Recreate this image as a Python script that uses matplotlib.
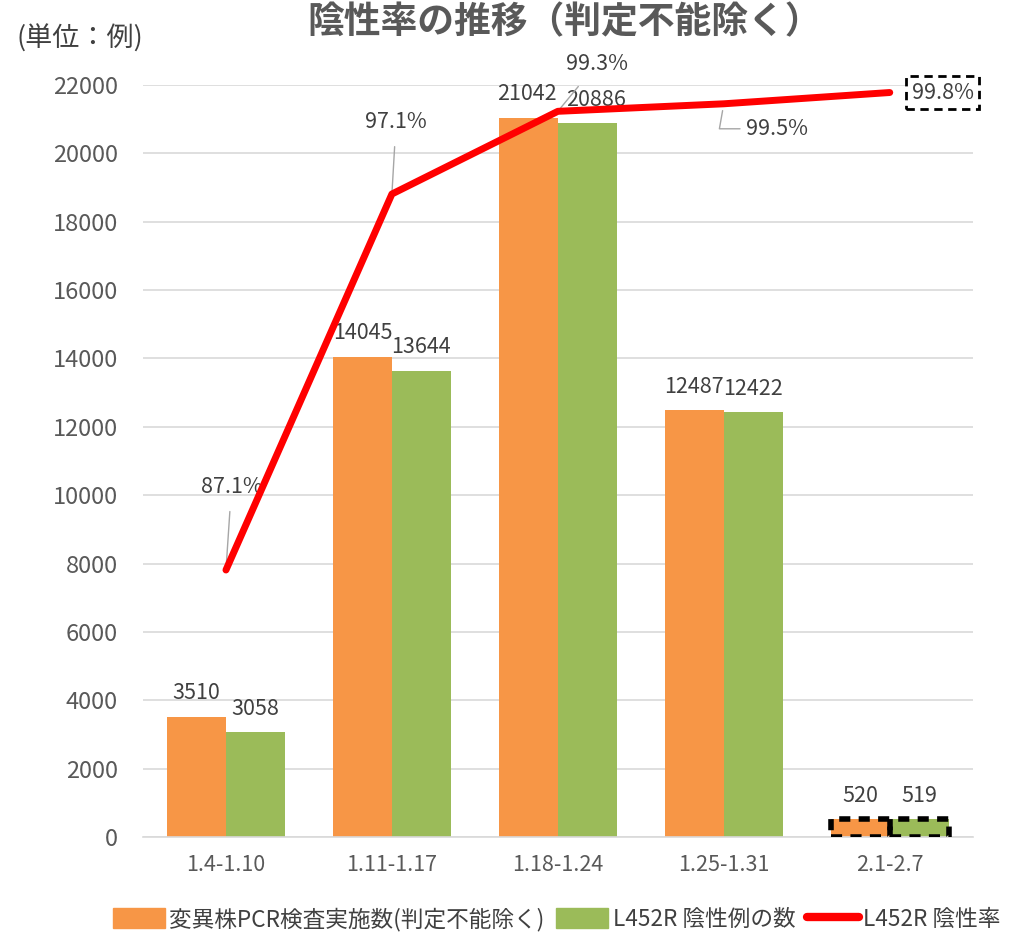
import numpy as np
import matplotlib.pyplot as plt
from matplotlib.patches import Patch
from matplotlib.lines import Line2D

plt.rcParams['font.family'] = ['Noto Sans CJK JP', 'DejaVu Sans']

periods = ['1.4-1.10', '1.11-1.17', '1.18-1.24', '1.25-1.31', '2.1-2.7']
tested = [3510, 14045, 21042, 12487, 520]
negative = [3058, 13644, 20886, 12422, 519]
neg_rate = [87.1, 97.1, 99.3, 99.5, 99.8]

orange = '#F79646'
green = '#9BBB59'
grey = '#595959'
dark = '#404040'

fig = plt.figure(figsize=(10.25, 9.34), dpi=100)
ax = fig.add_axes([0.1395, 0.1039, 0.8095, 0.8051])

x = np.arange(len(periods))
w = 0.355
b1 = ax.bar(x - w / 2, tested, w, color=orange, zorder=2)
b2 = ax.bar(x + w / 2, negative, w, color=green, zorder=2)

# dashed selection boxes on last group
ax.bar(x[-1:] - w / 2, tested[-1:], w, fill=False, edgecolor='black',
       linestyle=(0, (2, 1.5)), linewidth=4, zorder=3)
ax.bar(x[-1:] + w / 2, negative[-1:], w, fill=False, edgecolor='black',
       linestyle=(0, (2, 1.5)), linewidth=4, zorder=3)

off1 = [(0, 9), (0, 9), (-1, 9), (0, 9), (0, 9)]
off2 = [(0, 9), (0, 9), (6, 9), (0, 9), (0, 9)]
for i, (r1, r2) in enumerate(zip(b1, b2)):
    ax.annotate(str(tested[i]), (r1.get_x() + r1.get_width() / 2, tested[i]),
                xytext=off1[i], textcoords='offset points', ha='center',
                va='bottom', fontsize=15.5, color=dark)
    ax.annotate(str(negative[i]), (r2.get_x() + r2.get_width() / 2, negative[i]),
                xytext=off2[i], textcoords='offset points',
                ha='center', va='bottom', fontsize=15.5, color=dark)

ax.set_xlim(-0.5, 4.5)
ax.set_ylim(0, 22000)
ax.set_yticks(np.arange(0, 22001, 2000))
ax.set_xticks(x)
ax.set_xticklabels(periods)
ax.tick_params(length=0, colors=grey)
ax.tick_params(axis='y', pad=18, labelsize=17)
ax.tick_params(axis='x', pad=12, labelsize=15.5)
ax.grid(axis='y', color='#D9D9D9', linewidth=1.2, zorder=0)
ax.set_axisbelow(True)
for s in ['top', 'right', 'left']:
    ax.spines[s].set_visible(False)
ax.spines['bottom'].set_color('#D9D9D9')
ax.spines['bottom'].set_linewidth(1.2)

ax2 = ax.twinx()
ax2.set_ylim(80, 100)
ax2.plot(x, neg_rate, color='#FF0000', linewidth=5, solid_capstyle='round',
         solid_joinstyle='round', zorder=4)
ax2.axis('off')

rate_off = [(4, 60), (3, 52), (28, 34), (38, -18), (38, 0)]
for i, v in enumerate(neg_rate):
    kw = dict(xytext=rate_off[i], textcoords='offset points', ha='center',
              va='center', fontsize=15.5, color=dark)
    if i < 4:
        kw['arrowprops'] = dict(arrowstyle='-', color='#A6A6A6', lw=1,
                                shrinkA=8, shrinkB=0)
    if i == 3:
        kw['arrowprops']['connectionstyle'] = 'angle,angleA=0,angleB=80'
        kw['arrowprops']['shrinkA'] = 2
        kw['arrowprops']['shrinkB'] = 5
    if i == 4:
        kw['bbox'] = dict(boxstyle='square,pad=0.25', fc='white', ec='black',
                          lw=2, ls=(0, (3, 2)))
    ax2.annotate(f'{v}%', (x[i], v), **kw)

fig.text(0.551, 0.976, '陰性率の推移（判定不能除く）', ha='center', va='center',
         fontsize=26.5, fontweight='bold', color=grey)
fig.text(0.078, 0.959, '(単位：例)', ha='center', va='center',
         fontsize=19.5, color=dark)

handles = [Patch(color=orange), Patch(color=green),
           Line2D([0], [0], color='#FF0000', linewidth=6, solid_capstyle='round')]
labels = ['変異株PCR検査実施数(判定不能除く)', 'L452R 陰性例の数', 'L452R 陰性率']
fig.legend(handles, labels, loc='center', bbox_to_anchor=(0.543, 0.016),
           ncol=3, frameon=False, fontsize=16.3, labelcolor=dark,
           handlelength=2.3, handleheight=1.0, handletextpad=0.2,
           columnspacing=0.5)

fig.savefig('out.png', dpi=100)
